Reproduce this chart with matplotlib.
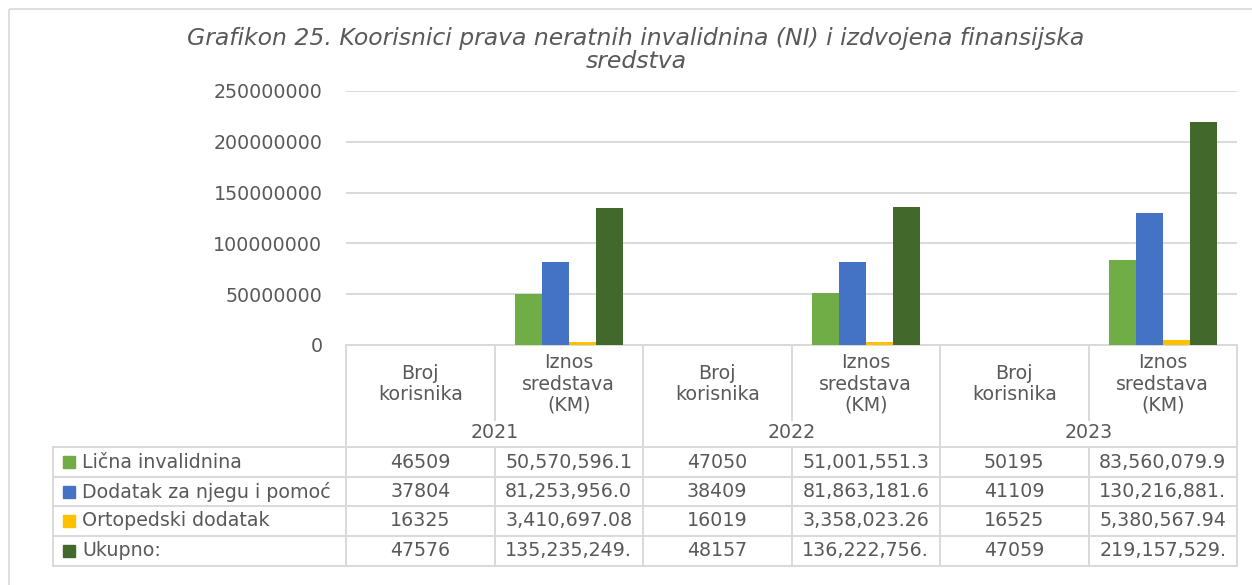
"""Grafikon 25 - korisnici NI i izdvojena sredstva, stupci + tablica podataka"""
import matplotlib
matplotlib.use("Agg")
import matplotlib.pyplot as plt
from matplotlib.ticker import FuncFormatter, MultipleLocator
from matplotlib.patches import Rectangle

YEARS = ["2021", "2022", "2023"]
SUB_CATS = ["Broj\nkorisnika", "Iznos\nsredstava\n(KM)"]

SERIES = ["Lična invalidnina", "Dodatak za njegu i pomoć", "Ortopedski dodatak", "Ukupno:"]
licna = [46509, 50570596.1, 47050, 51001551.3, 50195, 83560079.9]
dodatak = [37804, 81253956.0, 38409, 81863181.6, 41109, 130216881.0]
ortopedski = [16325, 3410697.08, 16019, 3358023.26, 16525, 5380567.94]
ukupno = [47576, 135235249.0, 48157, 136222756.0, 47059, 219157529.0]
COLORS = ["#70AD47", "#4472C4", "#FFC000", "#43682B"]

TXT = "#595959"
LINE = "#D9D9D9"
W, H = 1252, 585
FS = 13.7  # table font

fig = plt.figure(figsize=(W / 100, H / 100), dpi=100)

# pixel-space layer for frame, title and the data table
bg = fig.add_axes([0, 0, 1, 1])
bg.set_xlim(0, W)
bg.set_ylim(H, 0)
bg.axis("off")

# plot area in pixels
PL, PR, PT, PB = 346, 1237, 91, 345
ax = fig.add_axes([PL / W, 1 - PB / H, (PR - PL) / W, (PB - PT) / H])
ax.patch.set_alpha(0)

n = len(licna)
xs = list(range(n))
bw = 1 / 5.5
for k, (vals, col) in enumerate(zip([licna, dodatak, ortopedski, ukupno], COLORS)):
    ax.bar([x + (k - 1.5) * bw for x in xs], vals, width=bw, color=col, zorder=3)

ax.set_xlim(-0.5, n - 0.5)
ax.set_ylim(0, 250000000)
ax.yaxis.set_major_locator(MultipleLocator(50000000))
ax.yaxis.set_major_formatter(FuncFormatter(lambda v, _: f"{int(v)}"))
ax.grid(axis="y", color=LINE, lw=1.4, zorder=0)
ax.set_xticks([])
ax.tick_params(axis="y", length=0, pad=17, labelsize=13.7, labelcolor=TXT)
for s in ax.spines.values():
    s.set_visible(False)

# outer chart frame
bg.add_patch(Rectangle((9, 9), 1300, 700, fill=False, ec=LINE, lw=1.2))

title_kw = dict(ha="center", va="center", fontsize=16.9, style="italic",
                family="DejaVu Sans", color=TXT)
bg.text(636, 38, "Grafikon 25. Koorisnici prava neratnih invalidnina (NI) i izdvojena finansijska",
        **title_kw)
bg.text(636, 61, "sredstva", **title_kw)

# data table
col_w = (PR - PL) / n
def cx(i):
    return PL + (i + 0.5) * col_w

LEG_L = 53
ROWS = [447, 477, 506, 536, 566]
lw = 1.4

bg.plot([PL, PR], [PB, PB], color=LINE, lw=lw)
for y in ROWS:
    bg.plot([LEG_L, PR], [y, y], color=LINE, lw=lw)
bg.plot([LEG_L, LEG_L], [ROWS[0], ROWS[-1]], color=LINE, lw=lw)
for i in range(n + 1):
    x = PL + i * col_w
    if i % 2 == 0:
        bg.plot([x, x], [PB, ROWS[-1]], color=LINE, lw=lw)
    else:
        bg.plot([x, x], [PB, 420], color=LINE, lw=lw)
        bg.plot([x, x], [ROWS[0], ROWS[-1]], color=LINE, lw=lw)

for i in range(n):
    bg.text(cx(i), 384, SUB_CATS[i % 2], ha="center", va="center",
            fontsize=FS, color=TXT, linespacing=1.15)
for j, yr in enumerate(YEARS):
    bg.text(PL + (2 * j + 1) * col_w, 433, yr, ha="center", va="center",
            fontsize=FS, color=TXT)


def fmt(v, i):
    if i % 2 == 0:
        return f"{int(v)}"
    return f"{v:,.2f}"[:12]


for r, (name, vals, col) in enumerate(zip(SERIES, [licna, dodatak, ortopedski, ukupno], COLORS)):
    yc = (ROWS[r] + ROWS[r + 1]) / 2
    bg.add_patch(Rectangle((63, yc - 6), 12, 12, color=col))
    bg.text(82, yc, name, ha="left", va="center", fontsize=FS, color=TXT)
    for i, v in enumerate(vals):
        bg.text(cx(i), yc, fmt(v, i), ha="center", va="center", fontsize=FS, color=TXT)

fig.savefig("out.png", dpi=100)
